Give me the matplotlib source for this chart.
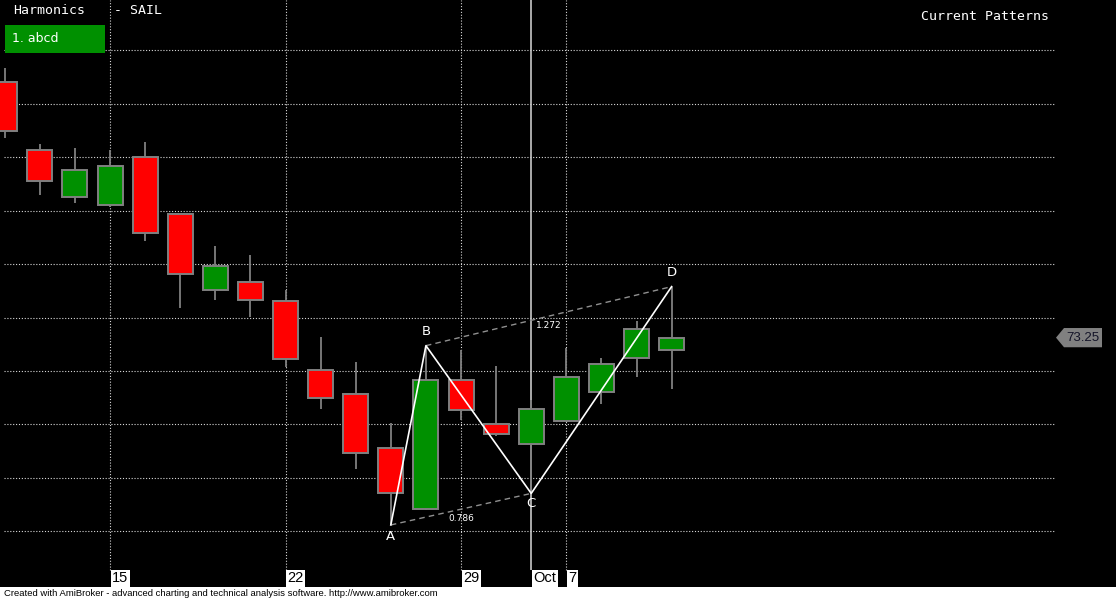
import matplotlib.pyplot as plt
from matplotlib.patches import Rectangle, Polygon
from matplotlib.transforms import blended_transform_factory

# SAIL daily bars (Sep 10 - Oct 10)
opens = [82.81, 80.26, 78.50, 78.20, 80.00, 77.87, 75.02, 75.32, 74.61, 72.03,
         71.13, 69.11, 66.83, 71.65, 70.01, 69.26, 70.13, 71.20, 72.50, 72.80]
highs = [83.34, 80.50, 80.35, 80.27, 80.57, 77.87, 76.68, 76.34, 75.03, 73.27,
         72.34, 70.04, 72.95, 72.79, 72.19, 70.92, 72.85, 72.48, 73.87, 75.16]
lows = [80.73, 78.60, 78.30, 78.14, 76.88, 74.37, 74.67, 74.03, 72.14, 70.59,
        68.35, 66.24, 66.80, 70.17, 69.58, 67.42, 70.10, 70.78, 71.79, 71.32]
closes = [80.97, 79.10, 79.51, 79.66, 77.15, 75.62, 75.92, 74.65, 72.46, 71.00,
          68.94, 67.42, 71.65, 70.53, 69.63, 70.57, 71.79, 72.25, 73.56, 73.25]

date_ticks = [3, 8, 13, 15, 16]
date_labels = ["15", "22", "29", "Oct", "7"]
selected_bar = 15

grid_prices = [66, 68, 70, 72, 74, 76, 78, 80, 82, 84]

# abcd pattern: A = low, B = high, C = low, D = high
pattern_bars = [11, 12, 15, 19]
pattern_names = ["A", "B", "C", "D"]
pattern_vals = [lows[11], highs[12], lows[15], highs[19]]
ratio_labels = ["0.786", "1.272"]

last_price = closes[-1]

W, H = 1116, 599
fig = plt.figure(figsize=(W / 100, H / 100), dpi=100, facecolor="black")
ax = fig.add_axes([0, 12 / H, 1, 587 / H])
ax.set_facecolor("black")
ax.set_axis_off()
ax.set_xlim(-0.134, 31.66)
ax.set_ylim(63.918, 85.886)

grid_col = "#d8d8d8"
dots = (0, (1, 1.6))

# horizontal grid
ax.hlines(grid_prices, -0.02, 29.92, colors=grid_col, linestyles=dots, lw=0.8, zorder=1)

# vertical date grid
ybot = 64.554
for t in date_ticks:
    if t == selected_bar:
        ax.vlines(t, ybot, 85.886, colors="#c8c8c8", lw=1.2, zorder=1)
    else:
        ax.vlines(t, ybot, 85.886, colors=grid_col, linestyles=dots, lw=0.8, zorder=1)

# candles
bw = 0.712
for i in range(len(opens)):
    o, h, l, c = opens[i], highs[i], lows[i], closes[i]
    col = "#009000" if c >= o else "#ff0000"
    ax.vlines(i, l, h, colors="#808080", lw=1.3, zorder=2)
    ax.add_patch(Rectangle((i - bw / 2, min(o, c)), bw, abs(c - o),
                           facecolor=col, edgecolor="#808080", lw=1.4, zorder=3))

# pattern lines
ax.plot(pattern_bars, pattern_vals, color="white", lw=1.2, zorder=5)
ax.plot([pattern_bars[0], pattern_bars[2]], [pattern_vals[0], pattern_vals[2]],
        color="#909090", lw=1, ls=(0, (4, 3)), zorder=4)
ax.plot([pattern_bars[1], pattern_bars[3]], [pattern_vals[1], pattern_vals[3]],
        color="#909090", lw=1, ls=(0, (4, 3)), zorder=4)

label_offsets = [-8, 10.5, -7.5, 10.5]
for b, v, name, off in zip(pattern_bars, pattern_vals, pattern_names, label_offsets):
    ax.annotate(name, (b, v), xytext=(0, off), textcoords="offset points",
                ha="center", va="center", color="white", fontsize=9.5, zorder=6)

for (p, q), txt in zip([(0, 2), (1, 3)], ratio_labels):
    mx = (pattern_bars[p] + pattern_bars[q]) / 2
    my = (pattern_vals[p] + pattern_vals[q]) / 2
    ax.annotate(txt, (mx, my), xytext=(0, -6.5), textcoords="offset points",
                ha="center", va="center", color="white", fontsize=6.5, zorder=6)

# date labels
tr = blended_transform_factory(ax.transData, ax.transAxes)
for t, lab in zip(date_ticks, date_labels):
    ax.text(t + 0.06, 1 - 578.5 / 587, lab, transform=tr, ha="left", va="center",
            fontsize=10.5, family="Liberation Sans", color="black",
            bbox=dict(facecolor="white", edgecolor="none", pad=1.0), zorder=7)

# last price tag
tr2 = blended_transform_factory(ax.transAxes, ax.transData)
hh = 0.36
tag = Polygon([(1056 / W, last_price), (1064 / W, last_price + hh), (1102 / W, last_price + hh),
               (1102 / W, last_price - hh), (1064 / W, last_price - hh)],
              closed=True, transform=tr2, facecolor="#808080", edgecolor="none", zorder=7)
ax.add_patch(tag)
ax.text(1083 / W, last_price, f"{last_price:.2f}", transform=tr2, ha="center", va="center",
        fontsize=9.5, family="Liberation Sans", color="#141428", zorder=8)

# header texts
fig.text(13 / W, 1 - 11 / H, "Harmonics", family="DejaVu Sans Mono", fontsize=9.5,
         color="white", ha="left", va="center")
fig.text(114 / W, 1 - 11 / H, "- SAIL", family="DejaVu Sans Mono", fontsize=9.5,
         color="white", ha="left", va="center")
fig.text(921 / W, 1 - 16 / H, "Current Patterns", family="DejaVu Sans Mono", fontsize=9.5,
         color="white", ha="left", va="center")
fig.patches.append(Rectangle((5 / W, 1 - 53 / H), 100 / W, 28 / H, transform=fig.transFigure,
                             facecolor="#009000", edgecolor="none"))
fig.text(12 / W, 1 - 39 / H, "1. abcd", fontsize=9, color="white", ha="left", va="center")

# footer
fig.patches.append(Rectangle((0, 0), 1, 12 / H, transform=fig.transFigure,
                             facecolor="white", edgecolor="none"))
fig.text(4 / W, 5.5 / H, "Created with AmiBroker - advanced charting and technical analysis software. http://www.amibroker.com",
         family="Liberation Sans", fontsize=6.8, color="black", ha="left", va="center")

fig.savefig("out.png", dpi=100, facecolor="black")
